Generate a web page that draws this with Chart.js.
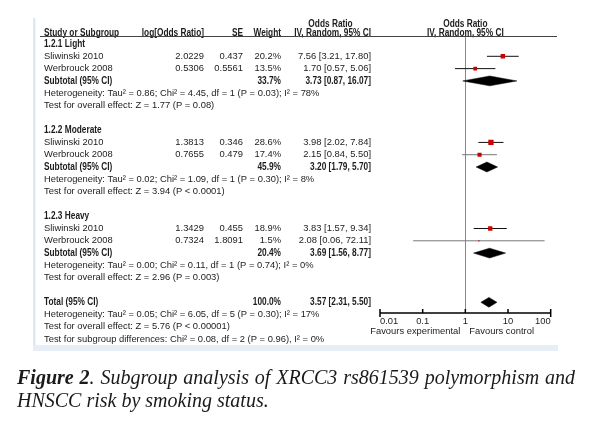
<!DOCTYPE html>
<html>
<head>
<meta charset="utf-8">
<script src="https://cdn.jsdelivr.net/npm/chart.js@4"></script>
<style>
  html, body { margin: 0; padding: 0; background: #fff; }
  #wrap { position: relative; width: 593px; height: 425px; overflow: hidden; }
  #forest { position: absolute; left: 0; top: 0; }
  .cap { position: absolute; left: 17px; width: 558px; font: italic 20px "Liberation Serif", "Times New Roman", serif; color: #1a1a1a; white-space: nowrap; }
  #cap1 { top: 366px; text-align: justify; text-align-last: justify; }
  #cap2 { top: 389px; }
</style>
</head>
<body>
<div id="wrap">
  <canvas id="forest" width="593" height="425"></canvas>
  <div class="cap" id="cap1"><b>Figure 2</b>. Subgroup analysis of XRCC3 rs861539 polymorphism and</div>
  <div class="cap" id="cap2">HNSCC risk by smoking status.</div>
</div>
<script>
// subgroups
const groupNames = ['1.2.1 Light', '1.2.2 Moderate', '1.2.3 Heavy'];
const subWeight = ['33.7%', '45.9%', '20.4%'];
const subOR = [3.73, 3.20, 3.69];
const subLow = [0.87, 1.79, 1.56];
const subHigh = [16.07, 5.70, 8.77];
const subHet = [
  'Heterogeneity: Tau\u00b2 = 0.86; Chi\u00b2 = 4.45, df = 1 (P = 0.03); I\u00b2 = 78%',
  'Heterogeneity: Tau\u00b2 = 0.02; Chi\u00b2 = 1.09, df = 1 (P = 0.30); I\u00b2 = 8%',
  'Heterogeneity: Tau\u00b2 = 0.00; Chi\u00b2 = 0.11, df = 1 (P = 0.74); I\u00b2 = 0%'
];
const subTest = [
  'Test for overall effect: Z = 1.77 (P = 0.08)',
  'Test for overall effect: Z = 3.94 (P < 0.0001)',
  'Test for overall effect: Z = 2.96 (P = 0.003)'
];

// studies (two per subgroup)
const studyNames = ['Sliwinski 2010', 'Werbrouck 2008', 'Sliwinski 2010', 'Werbrouck 2008', 'Sliwinski 2010', 'Werbrouck 2008'];
const studyGroup = [0, 0, 1, 1, 2, 2];
const logOR = ['2.0229', '0.5306', '1.3813', '0.7655', '1.3429', '0.7324'];
const seVals = ['0.437', '0.5561', '0.346', '0.479', '0.455', '1.8091'];
const weights = [20.2, 13.5, 28.6, 17.4, 18.9, 1.5];
const oddsRatio = [7.56, 1.70, 3.98, 2.15, 3.83, 2.08];
const ciLow = [3.21, 0.57, 2.02, 0.84, 1.57, 0.06];
const ciHigh = [17.80, 5.06, 7.84, 5.50, 9.34, 72.11];

// overall
const totalWeight = '100.0%';
const totalOR = 3.57;
const totalLow = 2.31;
const totalHigh = 5.50;
const totalNotes = [
  'Heterogeneity: Tau\u00b2 = 0.05; Chi\u00b2 = 6.05, df = 5 (P = 0.30); I\u00b2 = 17%',
  'Test for overall effect: Z = 5.76 (P < 0.00001)',
  'Test for subgroup differences: Chi\u00b2 = 0.08, df = 2 (P = 0.96), I\u00b2 = 0%'
];

const tickValues = [0.01, 0.1, 1, 10, 100];
const tickLabels = ['0.01', '0.1', '1', '10', '100'];

const FONT = '"Liberation Sans", Arial, sans-serif';
const TXT = '#1c1c1c';
const fmt = v => v.toFixed(2);
const ciText = (o, l, h) => fmt(o) + ' [' + fmt(l) + ', ' + fmt(h) + ']';

// row layout
const groupRow = g => g * 7;
const studyRow = i => groupRow(studyGroup[i]) + 1 + studyGroup.slice(0, i).filter(g => g === studyGroup[i]).length;
const totalRow = 21;
const DH = 0.4; // diamond half height in rows

function diamond(o, l, h, r) {
  return [{x: l, y: r}, {x: o, y: r - DH}, {x: h, y: r}, {x: o, y: r + DH}, {x: l, y: r}];
}

const datasets = [];
datasets.push({
  data: oddsRatio.map((o, i) => ({x: o, y: studyRow(i)})),
  pointStyle: 'rect',
  pointRadius: weights.map(w => Math.sqrt(w) * 0.7),
  pointBackgroundColor: '#cc0000',
  pointBorderWidth: 0,
  showLine: false
});
oddsRatio.forEach((o, i) => {
  datasets.push({
    data: [{x: ciLow[i], y: studyRow(i)}, {x: ciHigh[i], y: studyRow(i)}],
    showLine: true,
    borderColor: (i === 3 || i === 5) ? '#777' : '#111',
    borderWidth: 1,
    pointRadius: 0
  });
});
subOR.forEach((o, g) => {
  datasets.push({
    data: diamond(o, subLow[g], subHigh[g], groupRow(g) + 3),
    showLine: true, fill: 'shape', backgroundColor: '#000', borderColor: '#000', borderWidth: 0.5, pointRadius: 0
  });
});
datasets.push({
  data: diamond(totalOR, totalLow, totalHigh, totalRow),
  showLine: true, fill: 'shape', backgroundColor: '#000', borderColor: '#000', borderWidth: 0.5, pointRadius: 0
});

const forestText = {
  id: 'forestText',
  beforeDraw(chart) {
    const ctx = chart.ctx;
    ctx.save();
    ctx.fillStyle = '#dfe7f2';
    ctx.fillRect(33, 18, 2.5, 333);
    ctx.fillStyle = '#e8eef6';
    ctx.fillRect(33, 345, 525, 6);
    ctx.restore();
  },
  beforeDatasetsDraw(chart) {
    const {ctx, chartArea, scales: {x}} = chart;
    const x1 = Math.round(x.getPixelForValue(1)) + 0.5;
    ctx.save();
    ctx.strokeStyle = '#888';
    ctx.lineWidth = 1;
    ctx.beginPath();
    ctx.moveTo(x1, chartArea.top);
    ctx.lineTo(x1, chartArea.bottom);
    ctx.stroke();
    // axis
    const yb = chartArea.bottom;
    ctx.strokeStyle = '#000';
    ctx.lineWidth = 1.5;
    ctx.beginPath();
    ctx.moveTo(x.getPixelForValue(0.01), yb);
    ctx.lineTo(x.getPixelForValue(100), yb);
    tickValues.forEach((v, k) => {
      const px = x.getPixelForValue(v);
      const end = k === 0 || k === tickValues.length - 1;
      ctx.moveTo(px, yb - 4);
      ctx.lineTo(px, end ? yb + 4 : yb);
    });
    ctx.stroke();
    ctx.restore();
  },
  afterDraw(chart) {
    const {ctx, chartArea, scales: {x, y}} = chart;
    const xc = x.getPixelForValue(1);
    const colStudy = 44, colLog = 204, colSE = 243, colW = 281, colCI = 371;
    const put = (t, px, py, align, isBold) => {
      ctx.textAlign = align;
      if (isBold) {
        ctx.font = 'bold 10px ' + FONT;
        ctx.fillText(t, px, py, ctx.measureText(t).width * 0.83);
      } else {
        ctx.font = '9.4px ' + FONT;
        ctx.fillText(t, px, py);
      }
    };
    ctx.save();
    ctx.fillStyle = TXT;
    ctx.textBaseline = 'middle';
    // header
    const h1 = chartArea.top - 13, h2 = chartArea.top - 4;
    put('Odds Ratio', 330.5, h1, 'center', true);
    put('Odds Ratio', xc, h1, 'center', true);
    put('Study or Subgroup', colStudy, h2, 'left', true);
    put('log[Odds Ratio]', colLog, h2, 'right', true);
    put('SE', colSE, h2, 'right', true);
    put('Weight', colW, h2, 'right', true);
    put('IV, Random, 95% CI', colCI, h2, 'right', true);
    put('IV, Random, 95% CI', xc, h2, 'center', true);
    ctx.strokeStyle = '#444';
    ctx.lineWidth = 1;
    ctx.beginPath();
    ctx.moveTo(40, chartArea.top - 0.5);
    ctx.lineTo(557, chartArea.top - 0.5);
    ctx.stroke();
    // subgroups
    groupNames.forEach((name, g) => {
      const r = groupRow(g);
      put(name, colStudy, y.getPixelForValue(r), 'left', true);
      const ys = y.getPixelForValue(r + 3);
      put('Subtotal (95% CI)', colStudy, ys, 'left', true);
      put(subWeight[g], colW, ys, 'right', true);
      put(ciText(subOR[g], subLow[g], subHigh[g]), colCI, ys, 'right', true);
      put(subHet[g], colStudy, y.getPixelForValue(r + 4), 'left');
      put(subTest[g], colStudy, y.getPixelForValue(r + 5), 'left');
    });
    studyNames.forEach((name, i) => {
      const yy = y.getPixelForValue(studyRow(i));
      put(name, colStudy, yy, 'left');
      put(logOR[i], colLog, yy, 'right');
      put(seVals[i], colSE, yy, 'right');
      put(weights[i].toFixed(1) + '%', colW, yy, 'right');
      put(ciText(oddsRatio[i], ciLow[i], ciHigh[i]), colCI, yy, 'right');
    });
    const yt = y.getPixelForValue(totalRow);
    put('Total (95% CI)', colStudy, yt, 'left', true);
    put(totalWeight, colW, yt, 'right', true);
    put(ciText(totalOR, totalLow, totalHigh), colCI, yt, 'right', true);
    totalNotes.forEach((t, k) => put(t, colStudy, y.getPixelForValue(totalRow + 1 + k), 'left'));
    // favours
    const yf = chartArea.bottom + 18;
    put('Favours experimental', xc - 5, yf, 'right');
    put('Favours control', xc + 4, yf, 'left');
    ctx.restore();
  }
};

new Chart(document.getElementById('forest').getContext('2d'), {
  type: 'scatter',
  data: { datasets },
  options: {
    responsive: false,
    animation: false,
    devicePixelRatio: 1,
    layout: { padding: { left: 380, right: 42.3, top: 37, bottom: 82 } },
    plugins: { legend: { display: false }, tooltip: { enabled: false } },
    scales: {
      x: {
        type: 'logarithmic',
        min: 0.01,
        max: 100,
        afterBuildTicks: s => { s.ticks = tickValues.map(v => ({ value: v })); },
        afterFit: s => { s.height = 30; },
        grid: { display: false, drawTicks: false },
        border: { display: false },
        ticks: {
          align: 'inner',
          padding: 3,
          autoSkip: false,
          maxRotation: 0,
          color: TXT,
          font: { size: 9.4, family: FONT },
          callback: v => tickLabels[tickValues.indexOf(v)]
        }
      },
      y: {
        type: 'linear',
        min: -0.57,
        max: 21.87,
        reverse: true,
        display: false
      }
    }
  },
  plugins: [forestText]
});
</script>
</body>
</html>
